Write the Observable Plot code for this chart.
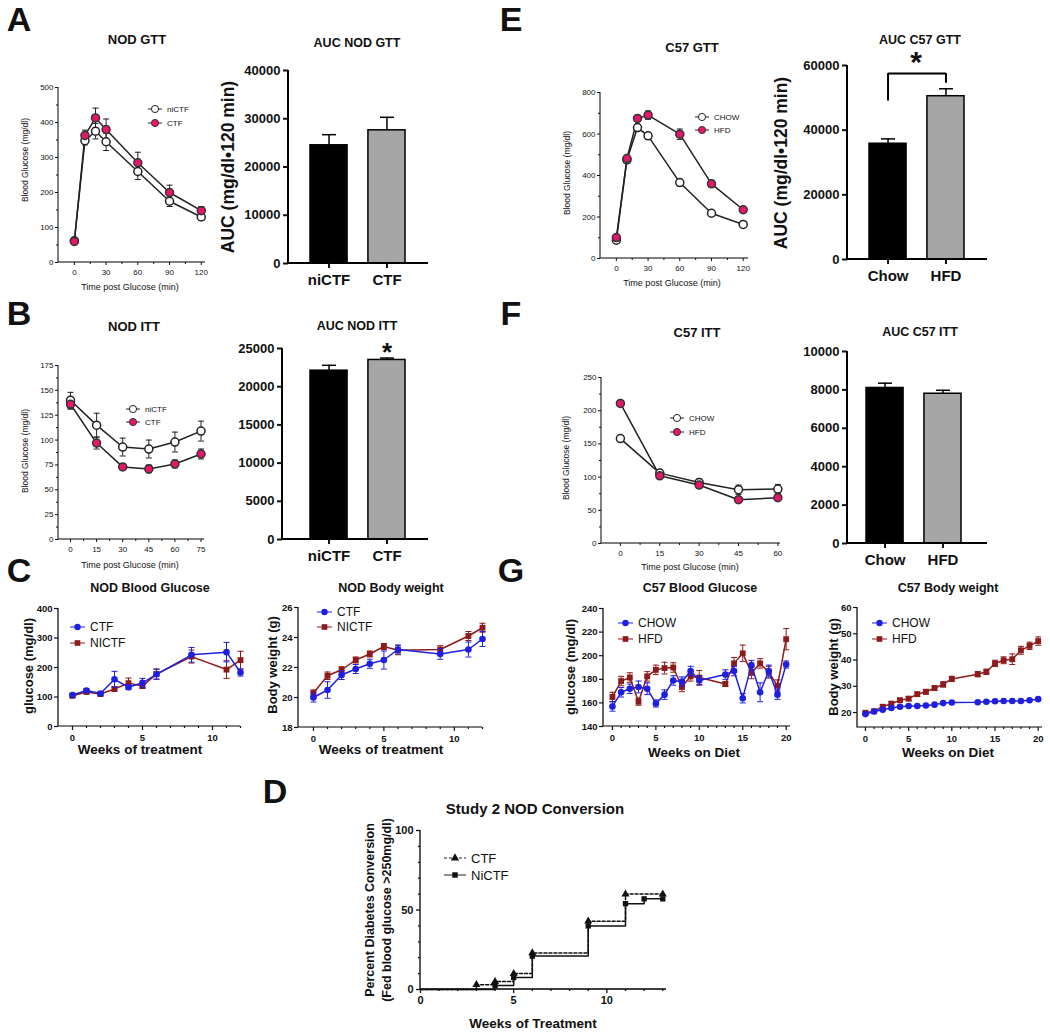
<!DOCTYPE html>
<html><head><meta charset="utf-8">
<script src="https://cdn.jsdelivr.net/npm/d3@7"></script>
<script src="https://cdn.jsdelivr.net/npm/@observablehq/plot@0.6"></script>
<style>
html,body{margin:0;padding:0;background:#fff;}
#root{position:relative;width:1050px;height:1032px;overflow:hidden;background:#fff;font-family:"Liberation Sans",Arial,Helvetica,sans-serif;color:#111;}
</style></head><body><div id="root"></div>
<script>
// ---------------- DATA ----------------
// A: NOD GTT
const gttMin = [0,10,20,30,60,90,120];
const nodGttNiCTF = [62,348,375,345,260,175,130];
const nodGttNiCTFErr = [5,12,22,25,23,15,10];
const nodGttCTF = [60,363,413,380,285,200,148];
const nodGttCTFErr = [4,15,28,30,30,21,12];
const nodGroups = ["niCTF","CTF"];
const nodGttAUC = [24500,27600];
const nodGttAUCErr = [2200,2700];
// B: NOD ITT
const nodIttMin = [0,15,30,45,60,75];
const nodIttNiCTF = [140,115,93,91,98,109];
const nodIttNiCTFErr = [8,12,9,9,10,10];
const nodIttCTF = [136,97,73,71,76,86];
const nodIttCTFErr = [5,6,3,4,4,5];
const nodIttAUC = [22100,23500];
const nodIttAUCErr = [700,250];
// C: NOD blood glucose / body weight
const nodBGWeeks = [0,1,2,3,4,5,6,8.5,11,12];
const nodBG_CTF = [107,122,112,160,133,148,177,243,252,183];
const nodBG_CTFErr = [5,6,5,27,8,15,17,25,33,12];
const nodBG_NICTF = [104,117,110,127,147,137,178,237,193,225];
const nodBG_NICTFErr = [5,5,6,8,17,8,17,22,30,30];
const nodBWWeeks = [0,1,2,3,4,5,6,9,11,12];
const nodBW_CTF = [20.0,20.5,21.5,21.9,22.25,22.5,23.2,22.9,23.2,23.9];
const nodBW_CTFErr = [0.3,0.55,0.3,0.3,0.3,0.6,0.3,0.35,0.5,0.5];
const nodBW_NICTF = [20.3,21.45,21.85,22.5,22.9,23.4,23.15,23.2,24.1,24.65];
const nodBW_NICTFErr = [0.2,0.25,0.2,0.2,0.2,0.2,0.3,0.25,0.3,0.3];
// D: Study 2 NOD conversion (cumulative %)
const convWeeksCTF = [0,3,4,5,6,9,11,13];
const convCTF = [0,3,5,10,23,43,60,60];
const convWeeksNiCTF = [0,4,5,6,9,11,12,13];
const convNiCTF = [0,2.5,7.5,21,40,54,57,57];
// E: C57 GTT
const c57GttCHOW = [88,475,631,591,366,218,164];
const c57GttCHOWErr = [5,10,10,15,15,8,6];
const c57GttHFD = [101,482,675,691,599,360,235];
const c57GttHFDErr = [6,10,15,20,25,15,8];
const c57Groups = ["Chow","HFD"];
const c57GttAUC = [35800,50500];
const c57GttAUCErr = [1500,2300];
const c57GttSigLevel = [57500];      // bracket height
const c57GttSigLegs = [49000, 54500]; // leg ends (Chow, HFD)
// F: C57 ITT
const c57IttMin = [0,15,30,45,60];
const c57IttCHOW = [158,106,92,81,82];
const c57IttCHOWErr = [3,5,5,7,7];
const c57IttHFD = [211,102,88,66,69];
const c57IttHFDErr = [3,4,4,4,3];
const c57IttAUC = [8100,7800];
const c57IttAUCErr = [250,180];
// G: C57 blood glucose / body weight
const c57Weeks = [0,1,2,3,4,5,6,7,8,9,10,13,14,15,16,17,18,19,20];
const c57BG_CHOW = [157,169,172,173.5,172,159.5,167,179,178,187,179,184,187,164,192,169,187,167,192.5];
const c57BG_CHOWErr = [4,4,4,5,5,3,4,4,4,4,4,4,4,4,4,8,5,4,3];
const c57BG_HFD = [165,178.5,181.5,161,182.5,188,189.5,190,173.5,182.5,181.5,176,193.5,202,185.5,193.5,186,174.5,214];
const c57BG_HFDErr = [4,4,4,3,4,4,5,4,4,4,6,2,5,7,5,4,5,5,9];
const c57BW_CHOW = [19.4,20.4,21.1,21.7,22.2,22.5,22.5,22.7,23.0,23.6,23.8,23.9,24.1,24.3,24.4,24.4,24.4,24.7,25.1];
const c57BW_HFD = [19.9,20.5,22.2,23.4,24.7,25.3,27.0,27.9,29.3,30.7,32.8,34.6,35.5,38.7,39.9,40.3,43.7,45.4,47.2];
const c57BW_HFDErr = [0.5,0.5,0.6,0.7,0.7,0.8,0.8,0.9,0.9,1,1,1,1,1.2,1.3,2,1.5,1.4,1.6];
// tick values
const gttTicks = [0,30,60,90,120], gttMinor = [15,45,75,105];
const nodIttTicks = [0,15,30,45,60,75], nodIttMinor = [7.5,22.5,37.5,52.5,67.5];
const c57IttTicks = [0,15,30,45,60], c57IttMinor = [7.5,22.5,37.5,52.5];
const weekTicks12 = [0,5,10], weekMinor12 = [1,2,3,4,6,7,8,9,11,12];
const weekTicks20 = [0,5,10,15,20], weekMinor20 = [1,2,3,4,6,7,8,9,11,12,13,14,16,17,18,19];

// ---------------- HELPERS ----------------
const FONT = '"Liberation Sans", Arial, Helvetica, sans-serif';
const PINK = "#e5176a", BLUE = "#1f1fe0", DRED = "#8e1b1b", GRAY = "#a6a6a6";
const root = document.getElementById("root");
const capSym = {draw(ctx, size){ const w = Math.sqrt(size/Math.PI); ctx.moveTo(-w,0); ctx.lineTo(w,0); }};

function rows(xs, ys, es, s){ return xs.map((x,i)=>({x, y: ys[i], e: es ? es[i] : 0, s})); }

function errBars(data, {stroke="#222", r=3, sw=1}={}) {
  const d = data.filter(v=>v.e>0);
  return [
    Plot.ruleX(d, {x:"x", y1: v=>v.y-v.e, y2: v=>v.y+v.e, stroke, strokeWidth: sw}),
    Plot.dot(d, {x:"x", y: v=>v.y+v.e, symbol: capSym, r, stroke, fill:"none", strokeWidth: sw}),
    Plot.dot(d, {x:"x", y: v=>v.y-v.e, symbol: capSym, r, stroke, fill:"none", strokeWidth: sw})
  ];
}

function frameLines(sw){ return (index, scales, values, dims) => {
  const {width,height,marginLeft,marginRight,marginTop,marginBottom} = dims;
  const p = document.createElementNS("http://www.w3.org/2000/svg","path");
  p.setAttribute("d", `M${marginLeft},${marginTop}V${height-marginBottom}H${width-marginRight}`);
  p.setAttribute("fill","none"); p.setAttribute("stroke","#000"); p.setAttribute("stroke-width", sw);
  return p;
};}

function axes(o) {
  const {xTicks, xMinor=[], yTicks, yMinor=[], fs=8, fw="normal", ts=3, ms=2, xPad=4, yPad=2, sw=1, xfs, yfs, yFmt} = o;
  const m = [frameLines(sw)];
  m.push(Plot.axisX({ticks: xTicks, tickSize: ts, tickPadding: xPad, fontSize: xfs||fs, fontWeight: fw, strokeWidth: sw, label: null}));
  if (xMinor.length) m.push(Plot.axisX({ticks: xMinor, tickSize: ms, tickFormat: ()=>"", label: null, strokeWidth: sw}));
  m.push(Plot.axisY({ticks: yTicks, tickSize: ts, tickPadding: yPad, fontSize: yfs||fs, fontWeight: fw, strokeWidth: sw, label: null, tickFormat: yFmt}));
  if (yMinor.length) m.push(Plot.axisY({ticks: yMinor, tickSize: ms, tickFormat: ()=>"", label: null, strokeWidth: sw}));
  return m;
}

function panel({fx0,fx1,fy0,fy1,padL=40,padR=10,padT=10,padB=25,fw="normal",marks,...rest}) {
  const W = Math.round(fx1-fx0+padL+padR), H = Math.round(fy1-fy0+padT+padB);
  const svg = Plot.plot({width:W,height:H,marginLeft:padL,marginRight:padR,marginTop:padT,marginBottom:padB,...rest,marks,
     style:{fontFamily:FONT, background:"transparent", overflow:"visible", color:"#111", fontWeight:fw}});
  svg.style.position="absolute"; svg.style.left=(fx0-padL)+"px"; svg.style.top=(fy0-padT)+"px"; svg.style.maxWidth="none";
  root.appendChild(svg);
}

function label(str, x, y, {size=12, weight="bold", rotate=false, color="#111"}={}) {
  const d = document.createElement("div");
  d.textContent = str;
  d.style.cssText = `position:absolute;left:${x}px;top:${y}px;font-family:${FONT};font-size:${size}px;font-weight:${weight};color:${color};white-space:nowrap;line-height:1;transform:translate(-50%,-50%)${rotate?" rotate(-90deg)":""};`;
  root.appendChild(d);
}

function legend(x, y, items, {fs=8, lw=14, gap=14, weight="normal", size=40}={}) {
  const svg = d3.create("svg").attr("width", 120).attr("height", gap*items.length+12)
    .style("position","absolute").style("left", x+"px").style("top", (y-6)+"px").style("overflow","visible");
  items.forEach((it,i)=>{
    const cy = 6 + i*gap;
    svg.append("line").attr("x1",0).attr("x2",lw).attr("y1",cy).attr("y2",cy).attr("stroke",it.line||"#222").attr("stroke-width",1).attr("stroke-dasharray", it.dash||null);
    svg.append("path").attr("transform",`translate(${lw/2},${cy})`).attr("d", d3.symbol(it.symbol, it.size||size)()).attr("fill",it.fill).attr("stroke",it.stroke||"none");
    svg.append("text").attr("x", lw+5).attr("y",cy).attr("dy","0.35em").text(it.label)
      .style("font-family",FONT).style("font-size",fs+"px").style("font-weight",weight).attr("fill","#111");
  });
  root.appendChild(svg.node());
}

function barPanel({fx0,fx1,fy0,fy1,band,groups,vals,errs,yMax,yTicks,padT=10,extra=[]}) {
  const data = groups.map((g,i)=>({g, v:vals[i], e:errs[i]}));
  const padL = 70;
  panel({fx0,fx1,fy0,fy1,padL,padR:10,padT,padB:30,fw:"bold",
    x:{type:"band", domain:groups, range:[band[0]-fx0+padL, band[1]-fx0+padL], paddingInner:0.36, paddingOuter:0, round:false},
    y:{domain:[0,yMax]},
    color:{domain:groups, range:["#000", GRAY]},
    marks:[
      Plot.barY(data, {x:"g", y:"v", fill:"g", stroke:"#000", strokeWidth:1.5}),
      Plot.ruleX(data, {x:"g", y1:"v", y2:d=>d.v+d.e, stroke:"#000", strokeWidth:1.5}),
      Plot.dot(data, {x:"g", y:d=>d.v+d.e, symbol:capSym, r:7, stroke:"#000", strokeWidth:1.5, fill:"none"}),
      ...axes({xTicks:groups, yTicks, fw:"bold", xfs:15, yfs:13, ts:5, xPad:6, yPad:3, sw:2, yFmt:d3.format("d")}),
      ...extra
    ]});
}

function letter(ch, x, y){ label(ch, x, y, {size:34, weight:"900"}); }

// ---------------- PANEL A ----------------
letter("A", 19, 19);
label("NOD GTT", 137, 39, {size:13});
{
  const ni = rows(gttMin, nodGttNiCTF, nodGttNiCTFErr, "niCTF");
  const c = rows(gttMin, nodGttCTF, nodGttCTFErr, "CTF");
  panel({fx0:58, fx1:205, fy0:87, fy1:262, padL:30, padB:22,
    x:{domain:[-15,124]}, y:{domain:[0,500]},
    marks:[
      ...axes({xTicks:gttTicks, xMinor:gttMinor, yTicks:d3.range(0,501,100), yMinor:d3.range(50,500,100)}),
      Plot.line(c, {x:"x", y:"y", stroke:"#222"}), Plot.line(ni, {x:"x", y:"y", stroke:"#222"}),
      ...errBars(c), ...errBars(ni),
      Plot.dot(ni, {x:"x", y:"y", r:4, fill:"#fff", stroke:"#222"}),
      Plot.dot(c, {x:"x", y:"y", r:4, fill:PINK, stroke:"#333"})
    ]});
  legend(148, 109, [{label:"niCTF", symbol:d3.symbolCircle, fill:"#fff", stroke:"#222"},{label:"CTF", symbol:d3.symbolCircle, fill:PINK, stroke:"#333"}]);
}
label("Blood Glucose (mg/dl)", 25, 160, {size:8.5, weight:"normal", rotate:true});
label("Time post Glucose (min)", 130, 287, {size:9, weight:"normal"});

label("AUC NOD GTT", 357, 43, {size:12.5});
barPanel({fx0:288, fx1:428, fy0:70, fy1:263, band:[310,405], groups:nodGroups, vals:nodGttAUC, errs:nodGttAUCErr, yMax:40000, yTicks:d3.range(0,40001,10000)});
label("AUC (mg/dl•120 min)", 229, 167, {size:17.5, rotate:true});

// ---------------- PANEL B ----------------
letter("B", 19, 313);
label("NOD ITT", 134, 326, {size:13});
{
  const ni = rows(nodIttMin, nodIttNiCTF, nodIttNiCTFErr, "niCTF");
  const c = rows(nodIttMin, nodIttCTF, nodIttCTFErr, "CTF");
  panel({fx0:58, fx1:204, fy0:365, fy1:539, padL:30, padB:22,
    x:{domain:[-6.9,77]}, y:{domain:[0,175]},
    marks:[
      ...axes({xTicks:nodIttTicks, xMinor:nodIttMinor, yTicks:d3.range(0,176,25), yMinor:d3.range(12.5,175,25)}),
      Plot.line(c, {x:"x", y:"y", stroke:"#222"}), Plot.line(ni, {x:"x", y:"y", stroke:"#222"}),
      ...errBars(c), ...errBars(ni),
      Plot.dot(ni, {x:"x", y:"y", r:4, fill:"#fff", stroke:"#222"}),
      Plot.dot(c, {x:"x", y:"y", r:4, fill:PINK, stroke:"#333"})
    ]});
  legend(126, 409, [{label:"niCTF", symbol:d3.symbolCircle, fill:"#fff", stroke:"#222"},{label:"CTF", symbol:d3.symbolCircle, fill:PINK, stroke:"#333"}], {gap:13});
}
label("Blood Glucose (mg/dl)", 25, 451, {size:8.5, weight:"normal", rotate:true});
label("Time post Glucose (min)", 130, 565, {size:9, weight:"normal"});

label("AUC NOD ITT", 357, 326, {size:12.5});
barPanel({fx0:282, fx1:428, fy0:348, fy1:539, band:[310,405], groups:nodGroups, vals:nodIttAUC, errs:nodIttAUCErr, yMax:25000, yTicks:d3.range(0,25001,5000)});
label("*", 387, 352, {size:26});

// ---------------- PANEL C ----------------
letter("C", 19, 570);
label("NOD Blood Glucose", 150, 588, {size:12.5});
{
  const c = rows(nodBGWeeks, nodBG_CTF, nodBG_CTFErr, "CTF");
  const n = rows(nodBGWeeks, nodBG_NICTF, nodBG_NICTFErr, "NICTF");
  panel({fx0:58, fx1:240, fy0:608, fy1:726, padL:30, padB:22, fw:"bold",
    x:{domain:[-1,12]}, y:{domain:[0,400]},
    marks:[
      ...axes({xTicks:weekTicks12, xMinor:weekMinor12, yTicks:d3.range(0,401,100), fs:9.5, fw:"bold", ts:4, xPad:4, yPad:2, sw:1.2}),
      Plot.line(n, {x:"x", y:"y", stroke:DRED}), ...errBars(n, {stroke:DRED}),
      Plot.dot(n, {x:"x", y:"y", symbol:"square", r:3.3, fill:DRED}),
      Plot.line(c, {x:"x", y:"y", stroke:BLUE}), ...errBars(c, {stroke:BLUE}),
      Plot.dot(c, {x:"x", y:"y", r:3.3, fill:BLUE})
    ]});
  legend(70, 627, [{label:"CTF", symbol:d3.symbolCircle, fill:BLUE, line:BLUE},{label:"NICTF", symbol:d3.symbolSquare, fill:DRED, line:DRED}], {fs:12, gap:16, lw:15, size:32});
}
label("glucose (mg/dl)", 28, 666, {size:13, rotate:true});
label("Weeks of treatment", 140, 750, {size:13.5});

label("NOD Body weight", 391, 588, {size:12.5});
{
  const c = rows(nodBWWeeks, nodBW_CTF, nodBW_CTFErr, "CTF");
  const n = rows(nodBWWeeks, nodBW_NICTF, nodBW_NICTFErr, "NICTF");
  panel({fx0:298, fx1:482, fy0:607, fy1:727, padL:30, padB:22, fw:"bold",
    x:{domain:[-1.06,12]}, y:{domain:[18,26]},
    marks:[
      ...axes({xTicks:weekTicks12, xMinor:weekMinor12, yTicks:[18,20,22,24,26], fs:9.5, fw:"bold", ts:4, xPad:4, yPad:2, sw:1.2}),
      Plot.line(n, {x:"x", y:"y", stroke:DRED}), ...errBars(n, {stroke:DRED}),
      Plot.dot(n, {x:"x", y:"y", symbol:"square", r:3.3, fill:DRED}),
      Plot.line(c, {x:"x", y:"y", stroke:BLUE}), ...errBars(c, {stroke:BLUE}),
      Plot.dot(c, {x:"x", y:"y", r:3.3, fill:BLUE})
    ]});
  legend(317, 612, [{label:"CTF", symbol:d3.symbolCircle, fill:BLUE, line:BLUE},{label:"NICTF", symbol:d3.symbolSquare, fill:DRED, line:DRED}], {fs:12, gap:15, lw:15, size:32});
}
label("Body weight (g)", 272, 665, {size:13, rotate:true});
label("Weeks of treatment", 381, 750, {size:13.5});

// ---------------- PANEL D ----------------
letter("D", 275, 791);
label("Study 2 NOD Conversion", 535, 808, {size:15});
{
  const c = convWeeksCTF.map((x,i)=>({x, y:convCTF[i]}));
  const n = convWeeksNiCTF.map((x,i)=>({x, y:convNiCTF[i]}));
  panel({fx0:420, fx1:666, fy0:830, fy1:989, padL:30, padB:22, fw:"bold",
    x:{domain:[0,13.2]}, y:{domain:[0,100]},
    marks:[
      ...axes({xTicks:[0,5,10], xMinor:[1,2,3,4,6,7,8,9,11,12,13], yTicks:[0,50,100], yMinor:[10,20,30,40,60,70,80,90], fs:11, fw:"bold", ts:4, xPad:3, yPad:3, sw:1.3}),
      Plot.line(c, {x:"x", y:"y", curve:"step-after", stroke:"#111", strokeDasharray:"3,2"}),
      Plot.line(n, {x:"x", y:"y", curve:"step-after", stroke:"#111"}),
      Plot.dot(c.filter(d=>d.x>0), {x:"x", y:"y", symbol:"triangle", r:3, fill:"#111"}),
      Plot.dot(n.filter(d=>d.x>0), {x:"x", y:"y", symbol:"square", r:3, fill:"#111"})
    ]});
  legend(444, 858, [{label:"CTF", symbol:d3.symbolTriangle, fill:"#111", dash:"3,2"},{label:"NiCTF", symbol:d3.symbolSquare, fill:"#111"}], {fs:13, gap:17, lw:22, size:30});
}
label("Percent  Diabetes Conversion", 370, 910, {size:12.5, rotate:true});
label("(Fed blood glucose >250mg/dl)", 387, 910, {size:12.5, rotate:true});
label("Weeks of Treatment", 533, 1024, {size:13.5});

// ---------------- PANEL E ----------------
letter("E", 511, 19);
label("C57 GTT", 692, 47, {size:13});
{
  const ch = rows(gttMin, c57GttCHOW, c57GttCHOWErr, "CHOW");
  const h = rows(gttMin, c57GttHFD, c57GttHFDErr, "HFD");
  panel({fx0:600, fx1:748, fy0:92, fy1:258, padL:30, padB:22,
    x:{domain:[-15,125]}, y:{domain:[0,800]},
    marks:[
      ...axes({xTicks:gttTicks, xMinor:gttMinor, yTicks:d3.range(0,801,200), yMinor:d3.range(100,800,200)}),
      Plot.line(h, {x:"x", y:"y", stroke:"#222"}), Plot.line(ch, {x:"x", y:"y", stroke:"#222"}),
      ...errBars(h), ...errBars(ch),
      Plot.dot(ch, {x:"x", y:"y", r:4, fill:"#fff", stroke:"#222"}),
      Plot.dot(h, {x:"x", y:"y", r:4, fill:PINK, stroke:"#333"})
    ]});
  legend(695, 117, [{label:"CHOW", symbol:d3.symbolCircle, fill:"#fff", stroke:"#222"},{label:"HFD", symbol:d3.symbolCircle, fill:PINK, stroke:"#333"}], {gap:13});
}
label("Blood Glucose (mg/dl)", 567, 173, {size:8.5, weight:"normal", rotate:true});
label("Time post Glucose (min)", 672, 283, {size:9, weight:"normal"});

label("AUC C57 GTT", 920, 40, {size:12.5});
{
  const sig = [{a:"Chow", b:"HFD", y:c57GttSigLevel[0], ya:c57GttSigLegs[0], yb:c57GttSigLegs[1]}];
  barPanel({fx0:847, fx1:987, fy0:65, fy1:259, band:[869,964], groups:c57Groups, vals:c57GttAUC, errs:c57GttAUCErr, yMax:60000, yTicks:d3.range(0,60001,20000), padT:40,
    extra:[
      Plot.link(sig, {x1:"a", x2:"b", y1:"y", y2:"y", stroke:"#000", strokeWidth:2}),
      Plot.ruleX(sig, {x:"a", y1:"y", y2:"ya", stroke:"#000", strokeWidth:2}),
      Plot.ruleX(sig, {x:"b", y1:"y", y2:"yb", stroke:"#000", strokeWidth:2})
    ]});
  label("*", 916, 62, {size:30});
}
label("AUC (mg/dl•120 min)", 782, 163, {size:17.5, rotate:true});

// ---------------- PANEL F ----------------
letter("F", 511, 313);
label("C57 ITT", 697, 332, {size:13});
{
  const ch = rows(c57IttMin, c57IttCHOW, c57IttCHOWErr, "CHOW");
  const h = rows(c57IttMin, c57IttHFD, c57IttHFDErr, "HFD");
  panel({fx0:601, fx1:780, fy0:377, fy1:543, padL:30, padB:22,
    x:{domain:[-7.2,61]}, y:{domain:[0,250]},
    marks:[
      ...axes({xTicks:c57IttTicks, xMinor:c57IttMinor, yTicks:d3.range(0,251,50), yMinor:d3.range(25,250,50)}),
      Plot.line(h, {x:"x", y:"y", stroke:"#222"}), Plot.line(ch, {x:"x", y:"y", stroke:"#222"}),
      ...errBars(h), ...errBars(ch),
      Plot.dot(ch, {x:"x", y:"y", r:4, fill:"#fff", stroke:"#222"}),
      Plot.dot(h, {x:"x", y:"y", r:4, fill:PINK, stroke:"#333"})
    ]});
  legend(670, 418, [{label:"CHOW", symbol:d3.symbolCircle, fill:"#fff", stroke:"#222"},{label:"HFD", symbol:d3.symbolCircle, fill:PINK, stroke:"#333"}], {gap:14});
}
label("Blood Glucose (mg/dl)", 566, 458, {size:8.5, weight:"normal", rotate:true});
label("Time post Glucose (min)", 690, 567, {size:9, weight:"normal"});

label("AUC C57 ITT", 920, 332, {size:12.5});
barPanel({fx0:847, fx1:987, fy0:351, fy1:543, band:[866,961], groups:c57Groups, vals:c57IttAUC, errs:c57IttAUCErr, yMax:10000, yTicks:d3.range(0,10001,2000)});

// ---------------- PANEL G ----------------
letter("G", 511, 570);
label("C57 Blood Glucose", 700, 588, {size:12.5});
{
  const ch = rows(c57Weeks, c57BG_CHOW, c57BG_CHOWErr, "CHOW");
  const h = rows(c57Weeks, c57BG_HFD, c57BG_HFDErr, "HFD");
  panel({fx0:603, fx1:790, fy0:608, fy1:726, padL:30, padB:22, fw:"bold",
    x:{domain:[-1.03,20.5]}, y:{domain:[140,240]},
    marks:[
      ...axes({xTicks:weekTicks20, xMinor:weekMinor20, yTicks:d3.range(140,241,20), fs:9.5, fw:"bold", ts:4, xPad:4, yPad:2, sw:1.2}),
      Plot.line(h, {x:"x", y:"y", stroke:DRED}), ...errBars(h, {stroke:DRED}),
      Plot.dot(h, {x:"x", y:"y", symbol:"square", r:3.3, fill:DRED}),
      Plot.line(ch, {x:"x", y:"y", stroke:BLUE}), ...errBars(ch, {stroke:BLUE}),
      Plot.dot(ch, {x:"x", y:"y", r:3.3, fill:BLUE})
    ]});
  legend(618, 623, [{label:"CHOW", symbol:d3.symbolCircle, fill:BLUE, line:BLUE},{label:"HFD", symbol:d3.symbolSquare, fill:DRED, line:DRED}], {fs:12, gap:16, lw:15, size:32});
}
label("glucose (mg/dl)", 570, 667, {size:13, rotate:true});
label("Weeks on Diet", 694, 753, {size:13.5});

label("C57 Body weight", 948, 588, {size:12.5});
{
  const ch = rows(c57Weeks, c57BW_CHOW, null, "CHOW");
  const h = rows(c57Weeks, c57BW_HFD, c57BW_HFDErr, "HFD");
  panel({fx0:857, fx1:1042, fy0:607, fy1:727, padL:30, padR:6, padB:22, fw:"bold",
    x:{domain:[-0.92,20.5]}, y:{domain:[14.3,60]},
    marks:[
      ...axes({xTicks:weekTicks20, xMinor:weekMinor20, yTicks:[20,30,40,50,60], fs:9.5, fw:"bold", ts:4, xPad:4, yPad:2, sw:1.2}),
      Plot.line(h, {x:"x", y:"y", stroke:DRED}), ...errBars(h, {stroke:DRED}),
      Plot.dot(h, {x:"x", y:"y", symbol:"square", r:3.3, fill:DRED}),
      Plot.line(ch, {x:"x", y:"y", stroke:BLUE}),
      Plot.dot(ch, {x:"x", y:"y", r:3.3, fill:BLUE})
    ]});
  legend(872, 623, [{label:"CHOW", symbol:d3.symbolCircle, fill:BLUE, line:BLUE},{label:"HFD", symbol:d3.symbolSquare, fill:DRED, line:DRED}], {fs:12, gap:16, lw:15, size:32});
}
label("Body weight (g)", 833, 667, {size:13, rotate:true});
label("Weeks on Diet", 948, 753, {size:13.5});
</script></body></html>
